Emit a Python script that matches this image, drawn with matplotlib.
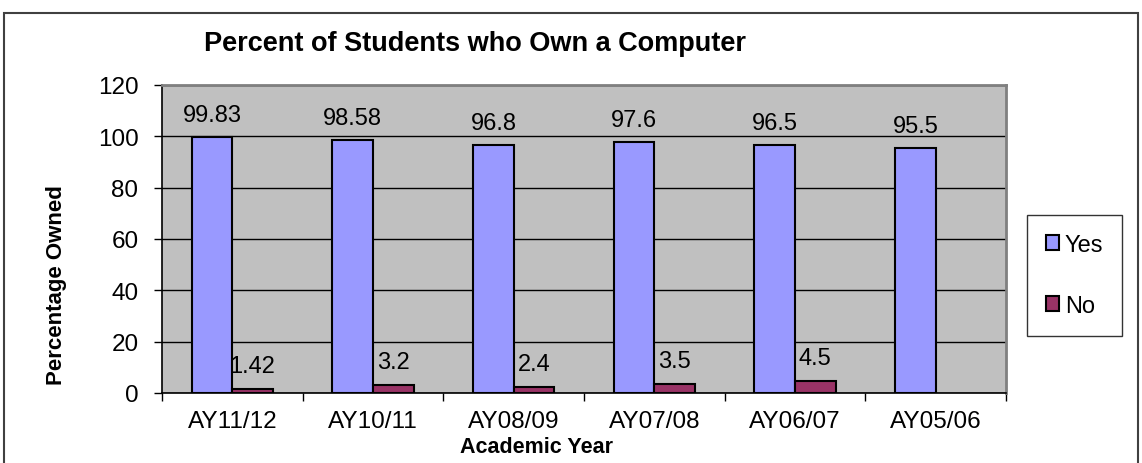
"""
Percent of students who own a computer, by academic year
"""

import numpy as np
import matplotlib
matplotlib.use('Agg')
import matplotlib.pyplot as plt
from matplotlib.patches import Rectangle

plt.rcParams['font.family'] = ['Liberation Sans', 'DejaVu Sans']

# data
years = ['AY11/12', 'AY10/11', 'AY08/09', 'AY07/08', 'AY06/07', 'AY05/06']
yes_pct = [99.83, 98.58, 96.8, 97.6, 96.5, 95.5]
no_pct = [1.42, 3.2, 2.4, 3.5, 4.5]
yes_labels = ['99.83', '98.58', '96.8', '97.6', '96.5', '95.5']
no_labels = ['1.42', '3.2', '2.4', '3.5', '4.5']

W, H = 1142, 464
fig = plt.figure(figsize=(W / 100., H / 100.), dpi=100)

# outer chart border (bottom runs off the page)
fig.patches.append(Rectangle((4 / W, -0.1), 1134 / W, 1.1 - 14 / H,
                             transform=fig.transFigure, fill=False,
                             edgecolor='#404040', lw=1.5, clip_on=False))
# cut-off line of document text above the chart
fig.text(0.02, 1.0 + 12 / H, 'Results of the Student Information Technology Survey  -  Student Computer Ownership',
         fontsize=17, color='#555555', va='center', ha='left')

ax = fig.add_axes([162 / W, 1 - 394 / H, (1006 - 162) / W, (394 - 86) / H])
ax.set_facecolor('#C0C0C0')

x = np.arange(len(years))
bw = 0.288
ax.bar(x - bw / 2, yes_pct, bw, color='#9999FF', edgecolor='black', lw=1.5, label='Yes', zorder=3)
ax.bar(x[:len(no_pct)] + bw / 2, no_pct, bw, color='#993366', edgecolor='black', lw=1.5, label='No', zorder=3)

for xi, v, s in zip(x, yes_pct, yes_labels):
    ax.annotate(s, (xi - bw / 2, v), xytext=(0, 16), textcoords='offset pixels',
                ha='center', va='baseline', fontsize=17)
for xi, v, s in zip(x, no_pct, no_labels):
    ax.annotate(s, (xi + bw / 2, v), xytext=(0, 17), textcoords='offset pixels',
                ha='center', va='baseline', fontsize=17)

ax.set_xlim(-0.5, len(years) - 0.5)
ax.set_ylim(0, 120)
ax.set_yticks(np.arange(0, 121, 20))
ax.yaxis.grid(True, color='black', lw=1)
ax.set_axisbelow(True)

# ticks on category boundaries, labels in the middle
ax.set_xticks(np.arange(-0.5, len(years), 1.0))
ax.set_xticklabels([])
ax.set_xticks(x, minor=True)
ax.set_xticklabels(years, minor=True)
ax.tick_params(axis='x', which='major', length=6, width=1, direction='out')
ax.tick_params(axis='x', which='minor', length=0, pad=12, labelsize=17.5)
ax.tick_params(axis='y', length=6, width=1, pad=11, labelsize=17.5)

for s in ['left', 'bottom']:
    ax.spines[s].set_color('black')
    ax.spines[s].set_linewidth(1.2)
for s in ['top', 'right']:
    ax.spines[s].set_color('#808080')
    ax.spines[s].set_linewidth(2)

fig.text(475 / W, 1 - 44 / H, 'Percent of Students who Own a Computer',
         fontsize=19.5, fontweight='bold', ha='center', va='center')
fig.text(537 / W, 1 - 448 / H, 'Academic Year', fontsize=15.5, fontweight='bold',
         ha='center', va='center')
fig.text(57 / W, 1 - 285 / H, 'Percentage Owned', fontsize=16, fontweight='bold',
         ha='center', va='center', rotation=90)

leg = fig.legend(loc='upper left', bbox_to_anchor=(1027 / W, 1 - 216 / H), borderaxespad=0,
                 fontsize=17, frameon=True, fancybox=False, handlelength=0.55,
                 handleheight=0.55, handletextpad=0.25, labelspacing=1.65, borderpad=0.8)
leg.get_frame().set_edgecolor('black')
leg.get_frame().set_linewidth(1)

plt.savefig('out.png', format='png')
